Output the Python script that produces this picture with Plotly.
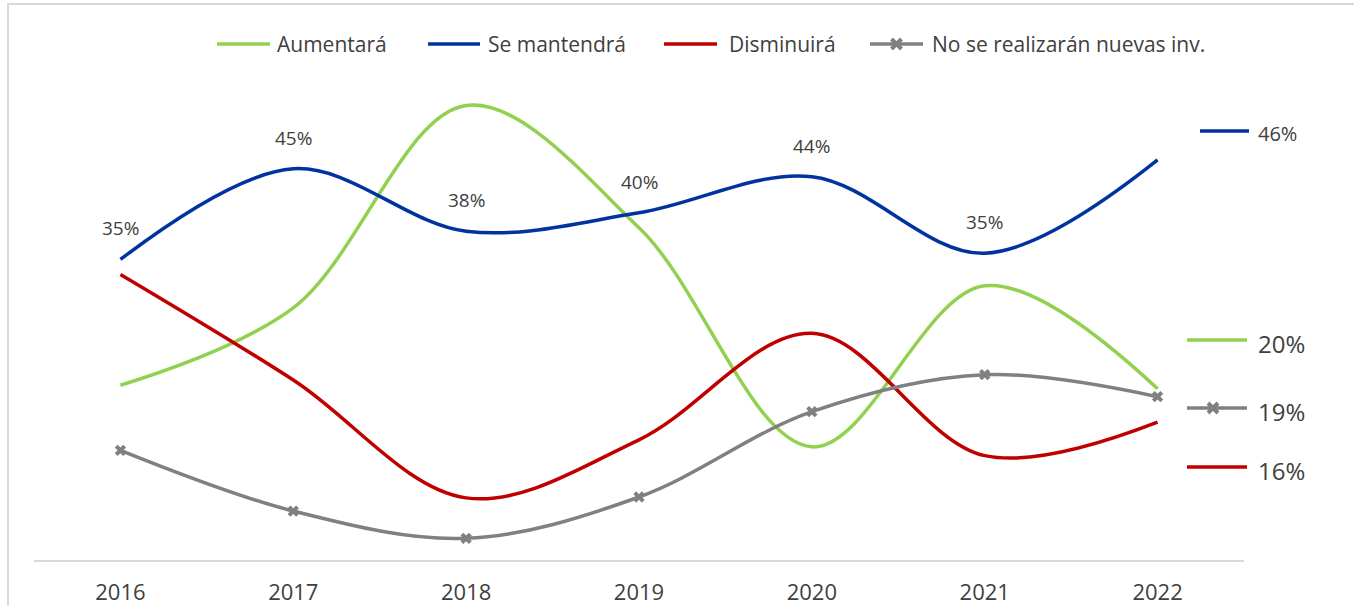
import plotly.graph_objects as go

# ---------------- data ----------------
years = ["2016", "2017", "2018", "2019", "2020", "2021", "2022"]
aumentara = [20.2, 29.0, 52.0, 38.1, 13.2, 31.5, 19.8]
se_mantendra = [34.5, 44.8, 37.7, 39.8, 43.9, 35.2, 45.8]
disminuira = [32.8, 20.8, 7.4, 14.0, 26.1, 12.2, 16.0]
no_nuevas = [12.8, 5.9, 2.8, 7.5, 17.2, 21.4, 18.9]

mant_labels = ["35%", "45%", "38%", "40%", "44%", "35%"]
end_labels = {"Se mantendrá": "46%", "Aumentará": "20%",
              "No se realizarán nuevas inv.": "19%", "Disminuirá": "16%"}

series_names = ["Aumentará", "Se mantendrá", "Disminuirá", "No se realizarán nuevas inv."]
series_values = [aumentara, se_mantendra, disminuira, no_nuevas]
colors = {"Aumentará": "#92D050", "Se mantendrá": "#0033A0",
          "Disminuirá": "#C00000", "No se realizarán nuevas inv.": "#808080"}

# ---------------- layout geometry ----------------
W, H = 1354, 606
L, R_EDGE, T, B = 34, 1244, 80, 560
FONT = "Open Sans"
TXT = "#404040"


def px_x(p):
    return (p - L) / (R_EDGE - L)


def px_y(p):
    return (B - p) / (B - T)


fig = go.Figure()
for name, vals in zip(series_names, series_values):
    is_gray = name.startswith("No se")
    fig.add_trace(go.Scatter(
        x=years, y=vals, name=name,
        mode="lines+markers" if is_gray else "lines",
        line=dict(color=colors[name], width=3.5, shape="spline", smoothing=1.0),
        marker=dict(symbol="x", size=10, color=colors[name]) if is_gray else None,
        cliponaxis=False, showlegend=False,
    ))

annotations = []
shapes = []


def x_marker(cx, cy, color, d=5):
    path = (f"M {px_x(cx-d)},{px_y(cy-d)} L {px_x(cx+d)},{px_y(cy+d)} "
            f"M {px_x(cx-d)},{px_y(cy+d)} L {px_x(cx+d)},{px_y(cy-d)}")
    return dict(type="path", xref="paper", yref="paper", path=path,
                line=dict(color=color, width=4))


# data labels above "Se mantendrá" (category index positions)
for i, (v, lab) in enumerate(zip(se_mantendra, mant_labels)):
    annotations.append(dict(xref="x", yref="y", x=i, y=v, text=lab,
                            showarrow=False, yshift=31,
                            xanchor="center", yanchor="middle",
                            font=dict(family=FONT, size=19, color=TXT)))

# top legend (line sample + text)
legend_rows = [
    ("Aumentará", 217, 270, 275),
    ("Se mantendrá", 428, 480, 486),
    ("Disminuirá", 664, 717, 727),
    ("No se realizarán nuevas inv.", 870, 923, 930),
]
LEG_Y = 44
for name, x0, x1, tx in legend_rows:
    shapes.append(dict(type="line", xref="paper", yref="paper",
                       x0=px_x(x0), x1=px_x(x1), y0=px_y(LEG_Y), y1=px_y(LEG_Y),
                       line=dict(color=colors[name], width=3.5)))
    annotations.append(dict(xref="paper", yref="paper", x=px_x(tx), y=px_y(LEG_Y),
                            text=name, showarrow=False,
                            xanchor="left", yanchor="middle",
                            font=dict(family=FONT, size=21, color=TXT)))
    if name.startswith("No se"):
        shapes.append(x_marker((x0 + x1) / 2, LEG_Y, colors[name]))

# right-side keys
key_rows = [
    ("Se mantendrá", 131, 1200, 1249, 133, 20),
    ("Aumentará", 340, 1187, 1247, 343, 24),
    ("No se realizarán nuevas inv.", 408, 1187, 1247, 411, 24),
    ("Disminuirá", 467, 1187, 1247, 470, 24),
]
for name, ly, x0, x1, ty, fs in key_rows:
    shapes.append(dict(type="line", xref="paper", yref="paper",
                       x0=px_x(x0), x1=px_x(x1), y0=px_y(ly), y1=px_y(ly),
                       line=dict(color=colors[name], width=3.5)))
    annotations.append(dict(xref="paper", yref="paper", x=px_x(1256), y=px_y(ty),
                            text=end_labels[name], showarrow=False,
                            xanchor="left", yanchor="middle",
                            font=dict(family=FONT, size=fs, color=TXT)))
    if name.startswith("No se"):
        shapes.append(x_marker(1213, ly, colors[name]))

# outer border (top-left visible)
shapes.append(dict(type="rect", xref="paper", yref="paper",
                   x0=px_x(8), x1=px_x(1400), y0=px_y(650), y1=px_y(4),
                   line=dict(color="#D9D9D9", width=2), layer="below"))

fig.update_layout(
    width=W, height=H,
    margin=dict(l=L, r=W - R_EDGE, t=T, b=H - B, autoexpand=False),
    paper_bgcolor="white", plot_bgcolor="white",
    font=dict(family=FONT, color=TXT),
    showlegend=False,
    xaxis=dict(type="category", range=[-0.5, 6.5], showgrid=False,
               showline=True, linecolor="#D9D9D9", linewidth=2,
               ticks="", ticklabelstandoff=12, automargin=False,
               tickfont=dict(family=FONT, size=22, color=TXT), zeroline=False),
    yaxis=dict(range=[0.34, 54.89], visible=False, showgrid=False,
               zeroline=False, automargin=False),
    shapes=shapes,
    annotations=annotations,
)

fig.write_html("out.html", config={"displayModeBar": False},
               post_script="document.body.style.margin='0';")
